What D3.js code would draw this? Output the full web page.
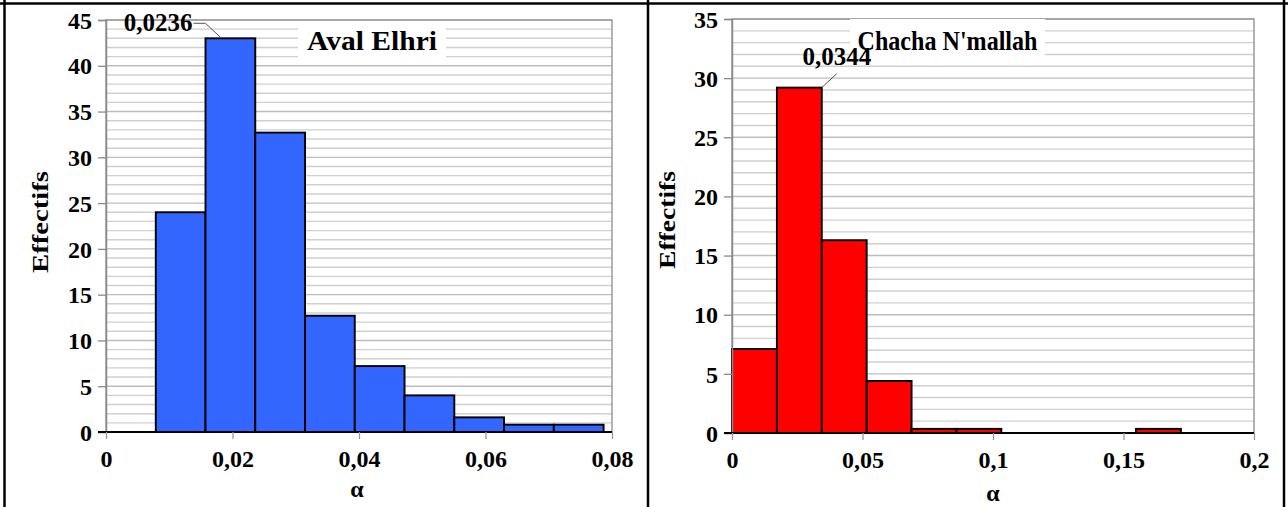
<!DOCTYPE html>
<html>
<head>
<meta charset="utf-8">
<script src="https://cdn.jsdelivr.net/npm/d3@7"></script>
<style>
  html, body { margin: 0; padding: 0; background: #fff; }
  svg { display: block; }
  svg text { font-family: "Liberation Serif", "Times New Roman", Times, serif !important; font-weight: bold; fill: #000; }
</style>
</head>
<body>
<svg id="chart" width="1288" height="507"></svg>
<script>
// ---------- DATA ----------
const leftEdges = [0, 0.00787, 0.01573, 0.0236, 0.03147, 0.03933, 0.0472, 0.05507, 0.06293, 0.0708, 0.07867];
const leftCounts = [0, 24, 43, 32.7, 12.7, 7.2, 4, 1.6, 0.8, 0.8];
const rightEdges = [0, 0.0172, 0.0344, 0.0516, 0.0688, 0.086, 0.1032, 0.1204, 0.1376, 0.1548, 0.172];
const rightCounts = [7.1, 29.2, 16.3, 4.4, 0.35, 0.35, 0, 0, 0, 0.35];

const leftXTicks = [0, 0.02, 0.04, 0.06, 0.08];
const leftXTickLabels = ["0", "0,02", "0,04", "0,06", "0,08"];
const rightXTicks = [0, 0.05, 0.1, 0.15, 0.2];
const rightXTickLabels = ["0", "0,05", "0,1", "0,15", "0,2"];
const leftYTicks = [0, 5, 10, 15, 20, 25, 30, 35, 40, 45];
const rightYTicks = [0, 5, 10, 15, 20, 25, 30, 35];

const leftTitle = "Aval Elhri";
const rightTitle = "Chacha N'mallah";
const leftPeakLabel = "0,0236";
const rightPeakLabel = "0,0344";
const yTitle = "Effectifs";
const xTitle = "α";

// ---------- DRAW ----------
const FONT = '"Liberation Serif", "Times New Roman", Times, serif';
const svg = d3.select("#chart");

// outer frame
svg.append("line").attr("x1", 0).attr("x2", 1288).attr("y1", 3.5).attr("y2", 3.5).attr("stroke", "#000").attr("stroke-width", 2.5);
svg.append("line").attr("x1", 4.5).attr("x2", 4.5).attr("y1", 0).attr("y2", 507).attr("stroke", "#000").attr("stroke-width", 2.5);
svg.append("line").attr("x1", 648).attr("x2", 648).attr("y1", 0).attr("y2", 507).attr("stroke", "#000").attr("stroke-width", 2.5);
svg.append("line").attr("x1", 1284).attr("x2", 1284).attr("y1", 0).attr("y2", 507).attr("stroke", "#000").attr("stroke-width", 2.5);

function panel(cfg) {
  const x = d3.scaleLinear().domain(cfg.xDomain).range([cfg.x0, cfg.x1]);
  const y = d3.scaleLinear().domain(cfg.yDomain).range([cfg.y0, cfg.y1]);
  const g = svg.append("g");

  // gridlines every unit
  const gridVals = d3.range(1, cfg.yDomain[1] + 1);
  g.append("g").selectAll("line").data(gridVals).join("line")
    .attr("x1", cfg.x0).attr("x2", cfg.x1)
    .attr("y1", d => y(d)).attr("y2", d => y(d))
    .attr("stroke", d => d % 5 === 0 ? "#bdbdbd" : "#d0d0d0")
    .attr("stroke-width", 1.4);

  // plot area border (grey)
  g.append("rect").attr("x", cfg.x0).attr("y", cfg.y1)
    .attr("width", cfg.x1 - cfg.x0).attr("height", cfg.y0 - cfg.y1)
    .attr("fill", "none").attr("stroke", "#9a9a9a").attr("stroke-width", 1.5);

  // title box
  const tb = g.append("g");
  tb.append("rect").attr("x", cfg.titleBox[0]).attr("y", cfg.titleBox[1])
    .attr("width", cfg.titleBox[2]).attr("height", cfg.titleBox[3]).attr("fill", "#fff");
  tb.append("text").attr("x", cfg.titleBox[0] + cfg.titleBox[2] / 2).attr("y", cfg.titleBox[1] + cfg.titleBase)
    .attr("text-anchor", "middle").attr("font-size", cfg.titleSize)
    .attr("textLength", cfg.titleLen).attr("lengthAdjust", "spacingAndGlyphs")
    .style("font-family", FONT)
    .text(cfg.title);

  // bars
  const bins = cfg.counts.map((c, i) => ({ x0: cfg.edges[i], x1: cfg.edges[i + 1], c }));
  g.append("g").selectAll("rect").data(bins).join("rect")
    .attr("x", d => x(d.x0)).attr("width", d => x(d.x1) - x(d.x0))
    .attr("y", d => y(d.c)).attr("height", d => y(0) - y(d.c))
    .attr("fill", cfg.color).attr("stroke", "#000").attr("stroke-width", 1.9);

  // y axis
  const ya = g.append("g").attr("transform", `translate(${cfg.x0},0)`)
    .call(d3.axisLeft(y).tickValues(cfg.yTicks).tickSize(8).tickPadding(6).tickFormat(d3.format("d")));
  ya.attr("font-family", null).attr("font-size", null);
  ya.select(".domain").attr("stroke", "#8a8a8a").attr("stroke-width", 1.5);
  ya.selectAll(".tick line").attr("stroke", "#8a8a8a").attr("stroke-width", 1.3);
  ya.selectAll(".tick text").attr("font-size", cfg.tickSize).style("font-family", FONT).attr("dy", "0.34em");

  // x axis
  const xa = g.append("g").attr("transform", `translate(0,${cfg.y0})`)
    .call(d3.axisBottom(x).tickValues(cfg.xTicks).tickSize(7).tickPadding(11)
      .tickFormat((d, i) => cfg.xTickLabels[i]));
  xa.attr("font-family", null).attr("font-size", null);
  xa.select(".domain").attr("stroke", "#000").attr("stroke-width", 1.8)
    .attr("d", `M${cfg.x0 - 8},0H${cfg.x1}`);
  xa.selectAll(".tick line").attr("stroke", "#9a9a9a").attr("stroke-width", 1.3);
  xa.selectAll(".tick text").attr("font-size", cfg.tickSize).style("font-family", FONT);

  // axis titles
  g.append("text").attr("transform", `translate(${cfg.yTitleX},${cfg.yTitleY}) rotate(-90)`)
    .attr("text-anchor", "middle").attr("dy", "0.35em").attr("font-size", cfg.axisTitleSize)
    .attr("textLength", cfg.yTitleLen).attr("lengthAdjust", "spacingAndGlyphs")
    .style("font-family", FONT).text(yTitle);
  g.append("text").attr("x", cfg.xTitleX).attr("y", cfg.xTitleY)
    .attr("text-anchor", "middle").attr("font-size", cfg.axisTitleSize)
    .style("font-family", FONT).text(xTitle);

  // peak label with leader
  const pb = bins[cfg.peakIndex];
  cfg.peak(g, x(pb.x0), x(pb.x1), y(pb.c));
}

panel({
  xDomain: [0, 0.08], yDomain: [0, 45], x0: 106, x1: 612, y0: 432, y1: 20,
  edges: leftEdges, counts: leftCounts, color: "#3366ff",
  xTicks: leftXTicks, xTickLabels: leftXTickLabels, yTicks: leftYTicks,
  title: leftTitle, titleBox: [298, 21, 148, 37], titleBase: 29, titleSize: 28, titleLen: 130,
  tickSize: 24, axisTitleSize: 24, yTitleX: 40, yTitleY: 222, yTitleLen: 102,
  xTitleX: 357, xTitleY: 497,
  peakIndex: 2,
  peak: (g, bx0, bx1, top) => {
    g.append("path").attr("d", `M${bx0 - 12},${top - 15}H${bx0}L${bx0 + 15},${top - 1}`)
      .attr("fill", "none").attr("stroke", "#555").attr("stroke-width", 1);
    g.append("text").attr("x", bx0 - 13).attr("y", top - 7).attr("text-anchor", "end")
      .attr("font-size", 25).style("font-family", FONT).text(leftPeakLabel);
  }
});

panel({
  xDomain: [0, 0.2], yDomain: [0, 35], x0: 732, x1: 1254, y0: 433, y1: 19,
  edges: rightEdges, counts: rightCounts, color: "#ff0000",
  xTicks: rightXTicks, xTickLabels: rightXTickLabels, yTicks: rightYTicks,
  title: rightTitle, titleBox: [850, 19, 195, 39], titleBase: 31, titleSize: 28, titleLen: 180,
  tickSize: 24, axisTitleSize: 24, yTitleX: 667, yTitleY: 220, yTitleLen: 98,
  xTitleX: 993, xTitleY: 501,
  peakIndex: 1,
  peak: (g, bx0, bx1, top) => {
    g.append("path").attr("d", `M${bx1},${top}L${bx1 + 15},${top - 14}`)
      .attr("fill", "none").attr("stroke", "#555").attr("stroke-width", 1);
    g.append("text").attr("x", bx1 + 15).attr("y", top - 23).attr("text-anchor", "middle")
      .attr("font-size", 25).style("font-family", FONT).text(rightPeakLabel);
  }
});
</script>
</body>
</html>
